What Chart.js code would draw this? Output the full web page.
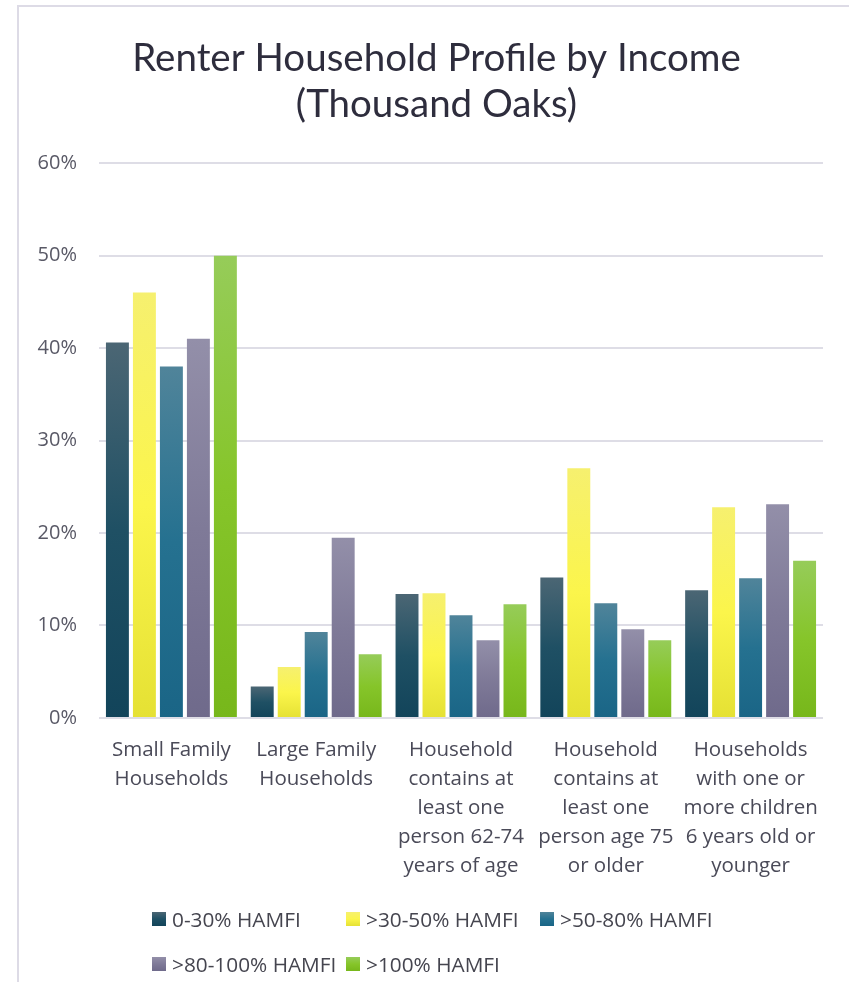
<!DOCTYPE html>
<html>
<head>
<meta charset="utf-8">
<script src="https://cdn.jsdelivr.net/npm/chart.js@4"></script>
<style>
  body { margin: 0; background: #fff; }
  #wrap { position: relative; width: 849px; height: 991px; overflow: hidden; }
  #frame { position: absolute; left: 17px; top: 5px; right: -4px; bottom: 9px;
           border-left: 2px solid #dddbe6; border-top: 2px solid #dddbe6; }
  #chart { position: absolute; left: 0; top: 0; }
  #legend { position: absolute; left: 152px; top: 905px;
            display: grid; grid-template-columns: 194px 194px 194px; row-gap: 17px;
            font-family: "Open Sans", sans-serif; font-size: 20.8px; color: #45454f; }
  #legend .item { display: flex; align-items: center; height: 28px; white-space: nowrap; }
  #legend .box { width: 14px; height: 14px; margin-right: 6px; }
</style>
</head>
<body>
<div id="wrap">
  <div id="frame"></div>
  <canvas id="chart" width="849" height="991"></canvas>
  <div id="legend"></div>
</div>
<script>
const titleLines = ['Renter Household Profile by Income', '(Thousand Oaks)'];

const categories = [
  ['Small Family', 'Households'],
  ['Large Family', 'Households'],
  ['Household', 'contains at', 'least one', 'person 62-74', 'years of age'],
  ['Household', 'contains at', 'least one', 'person age 75', 'or older'],
  ['Households', 'with one or', 'more children', '6 years old or', 'younger']
];

const seriesNames = ['0-30% HAMFI', '>30-50% HAMFI', '>50-80% HAMFI', '>80-100% HAMFI', '>100% HAMFI'];

// percent of renter households
const hamfi0to30   = [40.6, 3.4, 13.4, 15.2, 13.8];
const hamfi30to50  = [46.0, 5.5, 13.5, 27.0, 22.8];
const hamfi50to80  = [38.0, 9.3, 11.1, 12.4, 15.1];
const hamfi80to100 = [41.0, 19.5, 8.4, 9.6, 23.1];
const hamfi100plus = [50.0, 6.9, 12.3, 8.4, 17.0];

const yMin = 0;
const yMax = 60;
const yStep = 10;

// top / middle / bottom of each bar's gradient
const fills = [
  ['#4b6674', '#1f5064', '#12445a'],
  ['#f6f06f', '#fbf54b', '#e5e134'],
  ['#50849a', '#257190', '#1a6586'],
  ['#938fa9', '#7f7a98', '#6f6a8b'],
  ['#96cc59', '#86c52a', '#77b71b']
];

function barFill(stops) {
  return (ctx) => {
    const chart = ctx.chart;
    if (!chart.chartArea || ctx.type !== 'data') return stops[1];
    const y = chart.scales.y;
    const top = y.getPixelForValue(ctx.raw);
    const base = y.getPixelForValue(0);
    if (base - top < 1) return stops[1];
    const g = chart.ctx.createLinearGradient(0, top, 0, base);
    g.addColorStop(0, stops[0]);
    g.addColorStop(0.5, stops[1]);
    g.addColorStop(1, stops[2]);
    return g;
  };
}

const values = [hamfi0to30, hamfi30to50, hamfi50to80, hamfi80to100, hamfi100plus];

const datasets = values.map((data, i) => ({
  label: seriesNames[i],
  data: data,
  backgroundColor: barFill(fills[i]),
  borderWidth: 0,
  categoryPercentage: 0.932,
  barPercentage: 0.85
}));

new Chart(document.getElementById('chart'), {
  type: 'bar',
  data: { labels: categories, datasets: datasets },
  options: {
    responsive: false,
    animation: false,
    // left padding keeps the title centred like the source
    layout: { padding: { left: 24, right: 0, top: 0, bottom: 100 } },
    plugins: {
      legend: { display: false },
      tooltip: { enabled: false },
      title: {
        display: true,
        text: titleLines,
        color: '#2e2d3d',
        font: { family: 'Lato', size: 38.5, weight: 'normal', lineHeight: 1.21 },
        padding: { top: 35, bottom: 35 }
      }
    },
    scales: {
      x: {
        grid: { display: false },
        border: { display: false },
        ticks: {
          color: '#4a4a58',
          font: { family: 'Open Sans', size: 20.5, lineHeight: 1.415 },
          padding: 10,
          maxRotation: 0,
          autoSkip: false
        }
      },
      y: {
        min: yMin,
        max: yMax,
        afterFit: (scale) => { scale.width = 75; },
        grid: { color: '#dedde6', lineWidth: 2, drawTicks: false },
        border: { display: false },
        ticks: {
          stepSize: yStep,
          color: '#595966',
          font: { family: 'Open Sans', size: 20 },
          padding: 22,
          callback: (v) => v + '%'
        }
      },
      // empty right-hand axis, only reserves the gap after the plot
      yRight: {
        position: 'right',
        display: true,
        afterFit: (scale) => { scale.width = 26; },
        grid: { display: false },
        border: { display: false },
        ticks: { display: false }
      }
    }
  }
});

// legend in fixed columns, like the source
const legend = document.getElementById('legend');
seriesNames.forEach((name, i) => {
  const item = document.createElement('div');
  item.className = 'item';
  const box = document.createElement('span');
  box.className = 'box';
  box.style.background = 'linear-gradient(' + fills[i].join(',') + ')';
  const text = document.createElement('span');
  text.textContent = name;
  item.appendChild(box);
  item.appendChild(text);
  legend.appendChild(item);
});
</script>
</body>
</html>
